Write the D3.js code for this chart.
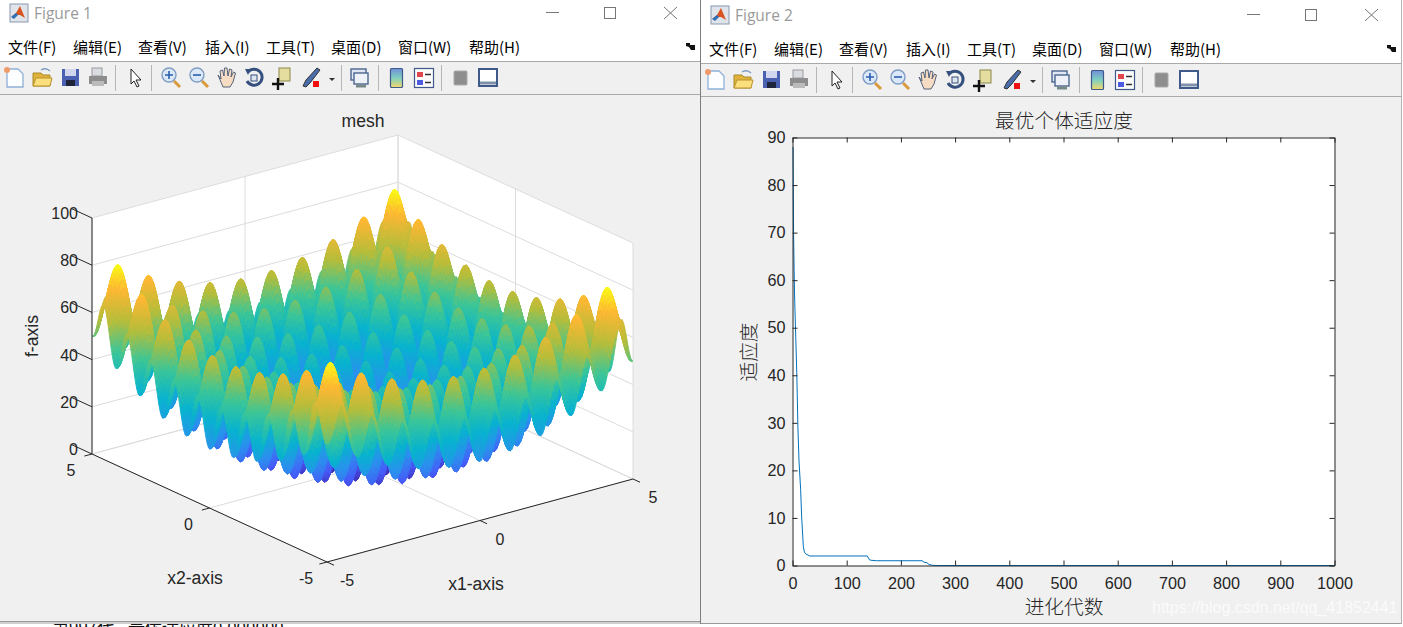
<!DOCTYPE html>
<html>
<head>
<meta charset="utf-8">
<script src="https://cdn.jsdelivr.net/npm/d3@7"></script>
<style>
    html, body { margin: 0; padding: 0; background: #fff; overflow: hidden; }
    svg { display: block; }
    text { font-family: "Liberation Sans", Arial, sans-serif; fill: #262626; }
    .cjk { font-family: "Noto Sans CJK SC", sans-serif; }
    .domain { stroke: #262626; }
    .tick line { stroke: #262626; }
</style>
</head>
<body>
<div id="chart"></div>
<script>
// best individual fitness per generation (figure 2)
const generations = [1, 2, 3, 4, 5, 6, 8, 10, 12, 15, 17, 20, 22, 25, 32, 138, 142, 145, 155, 240, 242, 248, 252, 258, 265, 1000];
const fitness = [88, 70, 62, 56, 52, 48, 40, 29, 22, 16, 10, 4, 2.8, 2.4, 2, 2, 1.2, 1.1, 1, 1, 0.7, 0.6, 0.2, 0.05, 0, 0];
const genTicks = [0, 100, 200, 300, 400, 500, 600, 700, 800, 900, 1000];
const fitTicks = [0, 10, 20, 30, 40, 50, 60, 70, 80, 90];

// height of the surface along one edge, read at x = 0, 0.05, ... 5 (mirrored for negative x)
const edgeProfile = [
    0, 0.49, 1.9, 4.14, 6.95, 10.06, 13.2, 16, 18.25, 19.71, 20.25, 19.81, 18.45, 16.3, 13.6, 10.56, 7.55, 4.84, 2.7, 1.39,
    1, 1.59, 3.1, 5.44, 8.35, 11.56, 14.8, 17.7, 20.05, 21.61, 22.25, 21.91, 20.65, 18.6, 16, 13.06, 10.15, 7.54, 5.5, 4.29,
    4, 4.69, 6.3, 8.74, 11.75, 15.06, 18.4, 21.4, 23.85, 25.51, 26.25, 26.01, 24.85, 22.9, 20.4, 17.56, 14.75, 12.24, 10.3, 9.19,
    9, 9.79, 11.5, 14.04, 17.15, 20.56, 24, 27.1, 29.65, 31.41, 32.25, 32.11, 31.05, 29.2, 26.8, 24.06, 21.35, 18.94, 17.1, 16.09,
    16, 16.89, 18.7, 21.34, 24.55, 28.06, 31.6, 34.8, 37.45, 39.31, 40.25, 40.21, 39.25, 37.5, 35.2, 32.56, 29.95, 27.64, 25.9, 24.99,
    25
];
const zTicks = [0, 20, 40, 60, 80, 100];
const xyTicks = [-5, 0, 5];

const menus = ['文件(F)', '编辑(E)', '查看(V)', '插入(I)', '工具(T)', '桌面(D)', '窗口(W)', '帮助(H)'];
const menuX = [8, 73, 138, 205, 266, 331, 398, 469];

// parula colormap
const parula = d3.scaleLinear()
    .domain([0, 0.143, 0.3, 0.44, 0.58, 0.72, 0.88, 1].map(d => d * 80.5))
    .range(['#3e26a8', '#475bf9', '#2b90ee', '#07b3cf', '#3cc697', '#b4bd3b', '#feb733', '#f9fb15']);

const width = 1403;
const height = 627;

const svg = d3.select('#chart').append('svg')
    .attr('width', width)
    .attr('height', height);

// console text behind the windows
svg.append('text')
    .attr('class', 'cjk')
    .attr('x', 52).attr('y', 634)
    .attr('font-size', 17)
    .style('fill', '#111')
    .text('第997代');
svg.append('text')
    .attr('class', 'cjk')
    .attr('x', 128).attr('y', 634)
    .attr('font-size', 17)
    .style('fill', '#111')
    .text('最优适应度0.000000');
svg.append('rect').attr('x', 0).attr('y', 622).attr('width', 700).attr('height', 2).attr('fill', '#cfcfcf');

function drawWindow(g, w, h, title) {
    g.append('rect').attr('width', w).attr('height', h).attr('fill', '#f0f0f0');
    g.append('rect').attr('width', w).attr('height', 61).attr('fill', '#fff');
    g.append('line').attr('x1', 0).attr('x2', w).attr('y1', 61.5).attr('y2', 61.5).attr('stroke', '#a9a9a9');
    g.append('line').attr('x1', 0).attr('x2', w).attr('y1', 94.5).attr('y2', 94.5).attr('stroke', '#a9a9a9');

    // matlab logo
    g.append('rect').attr('x', 10).attr('y', 4).attr('width', 18).attr('height', 18).attr('fill', '#dfe3ea').attr('stroke', '#8a98ad');
    g.append('path').attr('d', 'M11,17 L16,13 L20,6 L25,18 L20,15 L16,15 Z').attr('fill', '#d9541e');
    g.append('path').attr('d', 'M11,17 L16,13 L18,15 L14,19 Z').attr('fill', '#2f6fb5');

    g.append('text').attr('x', 34).attr('y', 19)
        .attr('font-size', 15.5)
        .style('font-family', '"Open Sans", sans-serif')
        .style('fill', '#9a9a9a')
        .text(title);

    // window buttons
    g.append('line').attr('x1', w - 154).attr('x2', w - 141).attr('y1', 12.5).attr('y2', 12.5).attr('stroke', '#777');
    g.append('rect').attr('x', w - 95.5).attr('y', 7.5).attr('width', 11).attr('height', 11).attr('fill', 'none').attr('stroke', '#777');
    g.append('path').attr('d', `M${w - 36},7 L${w - 23},19 M${w - 23},7 L${w - 36},19`).attr('stroke', '#777').attr('fill', 'none');

    g.selectAll('.menu').data(menus).join('text')
        .attr('class', 'menu cjk')
        .attr('x', (d, i) => menuX[i])
        .attr('y', 52.5)
        .attr('font-size', 15)
        .style('fill', '#000')
        .text(d => d);

    g.append('path').attr('d', 'M686,43 L690,43 L690,45 L695,45 L695,50 L691,50 L689,47 L686,46 Z').attr('fill', '#111');

    drawToolbar(g.append('g').attr('transform', 'translate(0,78)'));
}

function drawToolbar(t) {
    [115, 151, 341, 378, 441].forEach(x => {
        t.append('line').attr('x1', x + 0.5).attr('x2', x + 0.5).attr('y1', -13).attr('y2', 13).attr('stroke', '#b5b5b5');
    });
    // new file
    t.append('path').attr('d', 'M7,-9 H18 L23,-4 V9 H7 Z').attr('fill', '#fdfeff').attr('stroke', '#8fb0d8').attr('stroke-width', 1.3);
    t.append('circle').attr('cx', 7).attr('cy', -8).attr('r', 3).attr('fill', '#ef9a6a');
    // open
    t.append('path').attr('d', 'M33,-5 H41 L43,-3 H50 V8 H33 Z').attr('fill', '#e0b23a').attr('stroke', '#a98a2a');
    t.append('path').attr('d', 'M33,8 L36,0 H52 L50,8 Z').attr('fill', '#fbdf7c').attr('stroke', '#b8922e');
    t.append('path').attr('d', 'M41,-8 Q46,-11 50,-7').attr('fill', 'none').attr('stroke', '#7f9cc4').attr('stroke-width', 1.4);
    // save
    t.append('rect').attr('x', 62).attr('y', -9).attr('width', 17).attr('height', 17).attr('fill', '#4a60b0');
    t.append('rect').attr('x', 65).attr('y', -9).attr('width', 11).attr('height', 7).attr('fill', '#cfd6ee');
    t.append('rect').attr('x', 66).attr('y', 2).attr('width', 9).attr('height', 6).attr('fill', '#20243a');
    // print
    t.append('rect').attr('x', 92).attr('y', -10).attr('width', 10).attr('height', 8).attr('fill', '#d9dde2').attr('stroke', '#999');
    t.append('path').attr('d', 'M89,-2 H107 V6 H89 Z').attr('fill', '#8d8d8d');
    t.append('rect').attr('x', 92).attr('y', 3).attr('width', 12).attr('height', 5).attr('fill', '#bbb');
    // pointer
    t.append('path').attr('d', 'M131,-9 L131,6 L134,3 L137,9 L139,8 L136,2 L141,2 Z').attr('fill', '#fff').attr('stroke', '#222');
    // zoom in / out
    [[165, '+'], [193, '-']].forEach(([x, s]) => {
        t.append('line').attr('x1', x + 9).attr('y1', 3).attr('x2', x + 15).attr('y2', 9).attr('stroke', '#d89a3c').attr('stroke-width', 3);
        t.append('circle').attr('cx', x + 4).attr('cy', -3).attr('r', 7).attr('fill', '#dbe8f7').attr('stroke', '#7f9cc4').attr('stroke-width', 1.4);
        t.append('path').attr('d', s === '+' ? `M${x},-3 H${x + 8} M${x + 4},-7 V1` : `M${x},-3 H${x + 8}`).attr('stroke', '#2b5fb0').attr('stroke-width', 1.6);
    });
    // hand
    t.append('path').attr('d', 'M218,-3 L221,1 L220,-7 L222.5,-8 L224,-2 L224.5,-10 L227,-10 L228,-2 L229.5,-9 L232,-8 L231,-1 L233.5,-6 L235.5,-5 L233,4 L230,9 H223 Z')
        .attr('fill', '#f7dcc4').attr('stroke', '#55627a');
    // rotate
    t.append('path').attr('d', 'M248,-6 A8,8 0 1 1 247,3').attr('fill', 'none').attr('stroke', '#35507f').attr('stroke-width', 3);
    t.append('path').attr('d', 'M245,-9 L251,-9 L248,-3 Z').attr('fill', '#35507f');
    t.append('rect').attr('x', 251).attr('y', -3).attr('width', 6).attr('height', 6).attr('fill', '#dfe5ee').attr('stroke', '#35507f');
    // data cursor
    t.append('rect').attr('x', 279).attr('y', -10).attr('width', 11).attr('height', 13).attr('fill', '#e5dca0').attr('stroke', '#8a8a4a');
    t.append('path').attr('d', 'M272,6 H284 M278,0 V12').attr('stroke', '#111').attr('stroke-width', 2.4);
    // brush
    t.append('path').attr('d', 'M303,8 L306,2 L317,-10 L320,-8 L310,5 L306,9 Z').attr('fill', '#4a6ca8').attr('stroke', '#333');
    t.append('rect').attr('x', 313).attr('y', 3).attr('width', 6).attr('height', 6).attr('fill', '#ee1111');
    t.append('path').attr('d', 'M329,0 H335 L332,3 Z').attr('fill', '#333');
    // link
    t.append('rect').attr('x', 351).attr('y', -9).attr('width', 15).attr('height', 11).attr('fill', '#dfe6f2').attr('stroke', '#4a6590').attr('stroke-width', 1.4);
    t.append('rect').attr('x', 354).attr('y', -5).attr('width', 14).attr('height', 11).attr('fill', '#eef2f8').attr('stroke', '#4a6590').attr('stroke-width', 1.4);
    t.append('path').attr('d', 'M356,8 H366').attr('stroke', '#788').attr('stroke-width', 3);
    // colorbar
    const cbGrad = svg.append('defs').append('linearGradient').attr('id', 'cb' + t.node().parentNode.getAttribute('data-win')).attr('x1', 0).attr('x2', 0).attr('y1', 0).attr('y2', 1);
    [[0, '#6f8fd8'], [0.5, '#7fd0c0'], [1, '#f5d96a']].forEach(s => cbGrad.append('stop').attr('offset', s[0]).attr('stop-color', s[1]));
    t.append('rect').attr('x', 390.5).attr('y', -9.5).attr('width', 12).attr('height', 19).attr('rx', 1).attr('fill', `url(#${cbGrad.attr('id')})`).attr('stroke', '#3f5a8a').attr('stroke-width', 1.2);
    // legend
    t.append('rect').attr('x', 414.5).attr('y', -9.5).attr('width', 19).attr('height', 19).attr('fill', '#fbfbfb').attr('stroke', '#3f5a8a').attr('stroke-width', 1.2);
    t.append('rect').attr('x', 417).attr('y', -6).attr('width', 6).attr('height', 5).attr('fill', '#e0474c');
    t.append('rect').attr('x', 417).attr('y', 2).attr('width', 6).attr('height', 5).attr('fill', '#4d5be0');
    t.append('path').attr('d', 'M425,-3.5 H431 M425,4.5 H431').attr('stroke', '#333').attr('stroke-width', 1.6);
    // hide / show plot tools
    t.append('rect').attr('x', 454).attr('y', -7).attr('width', 13).attr('height', 14).attr('rx', 1).attr('fill', '#8e8e8e').attr('stroke', '#aaa');
    t.append('rect').attr('x', 479).attr('y', -9).attr('width', 18).attr('height', 17).attr('fill', '#fff').attr('stroke', '#3f5a8a').attr('stroke-width', 2);
    t.append('path').attr('d', 'M480,5 H496').attr('stroke', '#8090a8').attr('stroke-width', 3);
}

// figure 1 window
const win1 = svg.append('g').attr('data-win', 1);
drawWindow(win1, 700, 621, 'Figure 1');
win1.append('line').attr('x1', 0).attr('x2', 700).attr('y1', 621.5).attr('y2', 621.5).attr('stroke', '#9a9a9a');

// figure 2 window
const win2 = svg.append('g').attr('data-win', 2).attr('transform', 'translate(701,2)');
win2.append('rect').attr('x', -1).attr('y', -2).attr('width', 703).attr('height', 2).attr('fill', '#fff');
drawWindow(win2, 700, 621, 'Figure 2');
win2.append('line').attr('x1', 0).attr('x2', 700).attr('y1', 621.5).attr('y2', 621.5).attr('stroke', '#9a9a9a');
svg.append('line').attr('x1', 700.5).attr('x2', 700.5).attr('y1', 0).attr('y2', 624).attr('stroke', '#7d7d7d');
svg.append('line').attr('x1', 1401.5).attr('x2', 1401.5).attr('y1', 0).attr('y2', 624).attr('stroke', '#b5b5b5');

// ---- figure 1, orthographic 3D axes ----
const origin = [327, 562];
const x1X = d3.scaleLinear().domain([-5, 5]).range([0, 306]);
const x1Y = d3.scaleLinear().domain([-5, 5]).range([0, -83]);
const x2X = d3.scaleLinear().domain([-5, 5]).range([0, -235]);
const x2Y = d3.scaleLinear().domain([-5, 5]).range([0, -108]);
const zY = d3.scaleLinear().domain([0, 100]).range([0, -236]);

function project(x1, x2, z) {
    return [origin[0] + x1X(x1) + x2X(x2), origin[1] + x1Y(x1) + x2Y(x2) + zY(z)];
}
const pathOf = pts => 'M' + pts.map(p => project(p[0], p[1], p[2]).map(v => v.toFixed(2)).join(',')).join('L') + 'Z';
const fig1 = svg.append('g');

// back walls and floor
const walls = [
    [[-5, 5, 0], [5, 5, 0], [5, 5, 100], [-5, 5, 100]],
    [[5, 5, 0], [5, -5, 0], [5, -5, 100], [5, 5, 100]],
    [[-5, -5, 0], [5, -5, 0], [5, 5, 0], [-5, 5, 0]]
];
fig1.append('g').selectAll('path').data(walls).join('path')
    .attr('d', pathOf)
    .attr('fill', '#fff');

// grid lines on the walls and floor
const gridLines = [];
zTicks.forEach(z => {
    gridLines.push([[-5, 5, z], [5, 5, z]]);
    gridLines.push([[5, 5, z], [5, -5, z]]);
});
xyTicks.forEach(t => {
    gridLines.push([[t, -5, 0], [t, 5, 0]]);
    gridLines.push([[t, 5, 0], [t, 5, 100]]);
    gridLines.push([[-5, t, 0], [5, t, 0]]);
    gridLines.push([[5, t, 0], [5, t, 100]]);
});
fig1.append('g').selectAll('line').data(gridLines).join('line')
    .attr('x1', d => project(...d[0])[0])
    .attr('y1', d => project(...d[0])[1])
    .attr('x2', d => project(...d[1])[0])
    .attr('y2', d => project(...d[1])[1])
    .attr('stroke', '#dcdcdc');

// surface: back to front so nearer peaks cover the farther ones
const grid = d3.range(-100, 101).map(i => i / 20);
const heightAt = i => edgeProfile[Math.abs(i - 100)];
const quads = [];
for (let i = grid.length - 2; i >= 0; i--) {
    for (let j = grid.length - 2; j >= 0; j--) {
        const corners = [[i, j], [i + 1, j], [i + 1, j + 1], [i, j + 1]]
            .map(c => [grid[c[0]], grid[c[1]], heightAt(c[0]) + heightAt(c[1])]);
        quads.push(corners);
    }
}
fig1.append('g').selectAll('path').data(quads).join('path')
    .attr('d', pathOf)
    .attr('fill', d => parula(d3.mean(d, c => c[2])))
    .attr('stroke', d => parula(d3.mean(d, c => c[2])))
    .attr('stroke-width', 0.9)
    .attr('stroke-linejoin', 'round');

// axis lines and ticks
const axisLines = [
    [[-5, 5, 0], [-5, 5, 100]],
    [[-5, 5, 0], [-5, -5, 0]],
    [[-5, -5, 0], [5, -5, 0]]
];
fig1.append('g').selectAll('line').data(axisLines).join('line')
    .attr('x1', d => project(...d[0])[0])
    .attr('y1', d => project(...d[0])[1])
    .attr('x2', d => project(...d[1])[0])
    .attr('y2', d => project(...d[1])[1])
    .attr('stroke', '#262626');

const tickMarks = [];
zTicks.forEach(z => tickMarks.push([[-5, 5, z], [-5, 5.9, z]]));
xyTicks.forEach(t => {
    tickMarks.push([[-5, t, 0], [-5.25, t, 0]]);
    tickMarks.push([[t, -5, 0], [t, -5.3, 0]]);
});
fig1.append('g').selectAll('line').data(tickMarks).join('line')
    .attr('x1', d => project(...d[0])[0])
    .attr('y1', d => project(...d[0])[1])
    .attr('x2', d => project(...d[1])[0])
    .attr('y2', d => project(...d[1])[1])
    .attr('stroke', '#262626');

// tick labels
fig1.append('g').selectAll('text').data(zTicks).join('text')
    .attr('x', 78)
    .attr('y', d => project(-5, 5, d)[1] + 1)
    .attr('text-anchor', 'end')
    .attr('font-size', 16)
    .text(d => d);
fig1.append('g').selectAll('text').data(xyTicks).join('text')
    .attr('x', d => project(-5, d, 0)[0] - 21)
    .attr('y', d => project(-5, d, 0)[1] + 22)
    .attr('text-anchor', 'middle')
    .attr('font-size', 16)
    .text(d => d);
fig1.append('g').selectAll('text').data(xyTicks).join('text')
    .attr('x', d => project(d, -5, 0)[0] + 20)
    .attr('y', d => project(d, -5, 0)[1] + 24)
    .attr('text-anchor', 'middle')
    .attr('font-size', 16)
    .text(d => d);

fig1.append('text').attr('x', 363).attr('y', 127).attr('text-anchor', 'middle').attr('font-size', 17.6).text('mesh');
fig1.append('text').attr('transform', 'translate(38,336) rotate(-90)').attr('text-anchor', 'middle').attr('font-size', 17.6).text('f-axis');
fig1.append('text').attr('x', 195).attr('y', 584).attr('text-anchor', 'middle').attr('font-size', 17.6).text('x2-axis');
fig1.append('text').attr('x', 476).attr('y', 590).attr('text-anchor', 'middle').attr('font-size', 17.6).text('x1-axis');

// ---- figure 2, fitness curve ----
const fig2 = svg.append('g');
const x = d3.scaleLinear().domain([0, 1000]).range([792.5, 1334.5]);
const y = d3.scaleLinear().domain([0, 90]).range([565.5, 137.5]);

fig2.append('rect')
    .attr('x', x(0)).attr('y', y(90))
    .attr('width', x(1000) - x(0)).attr('height', y(0) - y(90))
    .attr('fill', '#fff');

const line = d3.line()
    .x((d, i) => x(d))
    .y((d, i) => y(fitness[i]));
fig2.append('path')
    .attr('d', line(generations))
    .attr('fill', 'none')
    .attr('stroke', '#0072BD')
    .attr('stroke-width', 1);

const bottomAxis = d3.axisBottom(x).tickValues(genTicks).tickFormat(d3.format('d')).tickSizeInner(-5).tickSizeOuter(0).tickPadding(12);
const leftAxis = d3.axisLeft(y).tickValues(fitTicks).tickSizeInner(-5).tickSizeOuter(0).tickPadding(7);
const topAxis = d3.axisTop(x).tickValues(genTicks).tickSizeInner(-5).tickSizeOuter(0).tickFormat('');
const rightAxis = d3.axisRight(y).tickValues(fitTicks).tickSizeInner(-5).tickSizeOuter(0).tickFormat('');

fig2.append('g').attr('transform', `translate(0,${y(0)})`).call(bottomAxis);
fig2.append('g').attr('transform', `translate(${x(0)},0)`).call(leftAxis);
fig2.append('g').attr('transform', `translate(0,${y(90)})`).call(topAxis);
fig2.append('g').attr('transform', `translate(${x(1000)},0)`).call(rightAxis);
fig2.selectAll('.tick text')
    .attr('font-size', 16.2)
    .style('font-family', '"Liberation Sans", Arial, sans-serif')
    .style('fill', '#262626');

fig2.append('text').attr('class', 'cjk').attr('x', 1064).attr('y', 128).attr('text-anchor', 'middle').attr('font-size', 19.7).style('font-weight', 300).text('最优个体适应度');
fig2.append('text').attr('class', 'cjk').attr('x', 1064).attr('y', 614).attr('text-anchor', 'middle').attr('font-size', 19.7).style('font-weight', 300).text('进化代数');
fig2.append('text').attr('class', 'cjk').attr('transform', 'translate(756,352) rotate(-90)').attr('text-anchor', 'middle').attr('font-size', 19.7).style('font-weight', 300).text('适应度');

// watermark
svg.append('text')
    .attr('x', 1152).attr('y', 613)
    .attr('font-size', 16)
    .style('fill', '#fbfbfb')
    .text('https://blog.csdn.net/qq_41852441');
</script>
</body>
</html>
